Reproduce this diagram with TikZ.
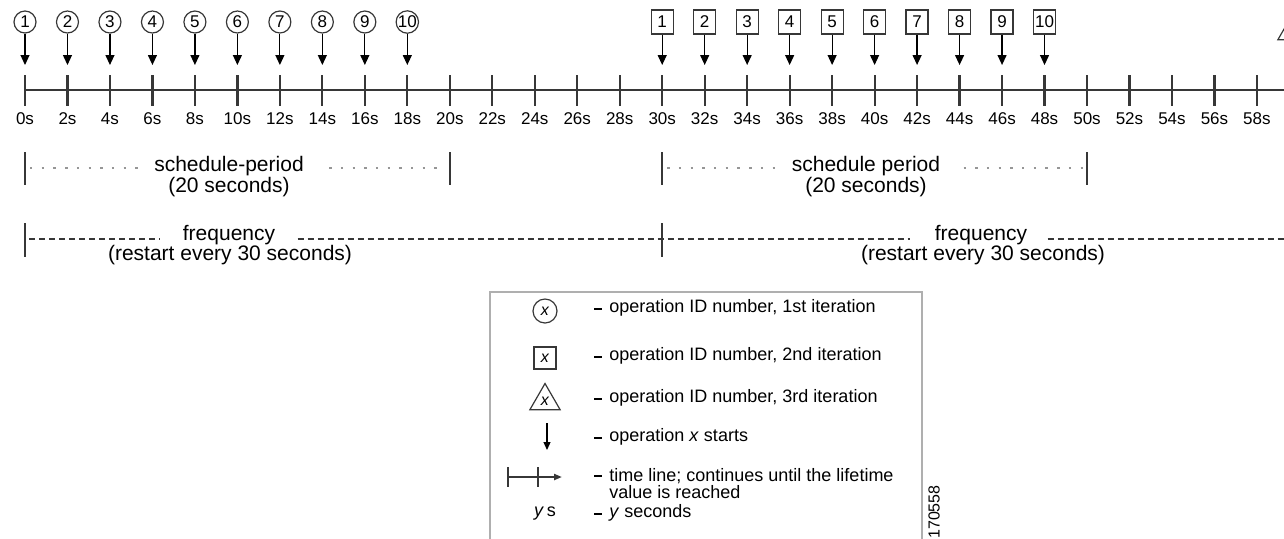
\documentclass[tikz,border=0pt]{standalone}
\usepackage{fontspec}
\setmainfont{Liberation Sans}
\usepackage{tikz}
\usetikzlibrary{shapes.geometric, arrows.meta, positioning, calc}
\definecolor{lineGray}{RGB}{55, 55, 55}
\definecolor{dotGray}{RGB}{150, 150, 150}
\definecolor{boxGray}{RGB}{175, 175, 175}

\begin{document}
\begin{tikzpicture}[
    x=0.5pt, y=-0.5pt,
    every node/.style={inner sep=0pt, align=center},
    lbl/.style={font=\fontsize{8.5}{10}\selectfont},
    period/.style={font=\fontsize{10.5}{11}\selectfont},
    legtext/.style={font=\fontsize{9}{8.5}\selectfont, anchor=west, align=left},
    legdash/.style={fill=black, minimum width=4pt, minimum height=1.4pt},
    opcircle/.style={circle, draw=lineGray, line width=0.6pt, minimum size=11pt, font=\fontsize{8.5}{9}\selectfont},
    opsquare/.style={rectangle, draw=lineGray, line width=0.6pt, minimum width=11pt, minimum height=12pt, font=\fontsize{8.5}{9}\selectfont},
    optri/.style={regular polygon, regular polygon sides=3, draw=lineGray, line width=0.6pt, minimum size=17.5pt, font=\fontsize{7.5}{8}\selectfont},
    startarr/.style={-{Triangle[length=5pt, width=4.5pt]}, line width=0.6pt, color=black},
    tline/.style={line width=1pt, color=lineGray},
    tickmark/.style={line width=1.1pt, color=lineGray},
    pbar/.style={line width=1.1pt, color=lineGray},
    dotline/.style={line width=1.2pt, color=dotGray, dash pattern=on 1.2pt off 4.65pt},
    dashline/.style={line width=0.6pt, color=lineGray, dash pattern=on 3pt off 2pt},
    legbox/.style={draw=boxGray, line width=0.6pt}
]

\clip (0,0) rectangle (1284,538);

% Timeline with ticks every 2 seconds
\coordinate (tstart) at (25,90);
\coordinate (tend) at (1284,90);
\draw[tline] (tstart) -- (tend);
\foreach \tm in {0,2,...,58} {
    \coordinate (tk\tm) at ({25+21.24*\tm},90);
    \draw[tickmark] ($(tk\tm)+(0,-15)$) -- ($(tk\tm)+(0,16)$);
    \node[lbl] (lb\tm) at ($(tk\tm)+(0,29)$) {\tm s};
}

% 1st iteration (circles)
\foreach \i in {1,...,10} {
    \pgfmathtruncatemacro{\tm}{2*(\i-1)}
    \node[opcircle] (c\i) at ({25+21.24*\tm},22) {\i};
    \coordinate (ca\i) at ($(tk\tm)+(0,-25)$);
    \draw[startarr] (c\i) -- (ca\i);
}

% 2nd iteration (squares)
\foreach \i in {1,...,10} {
    \pgfmathtruncatemacro{\tm}{30+2*(\i-1)}
    \node[opsquare] (s\i) at ({25+21.24*\tm},22) {\i};
    \coordinate (sa\i) at ($(tk\tm)+(0,-25)$);
    \draw[startarr] (s\i) -- (sa\i);
}

% 3rd iteration, running off the right edge
\node[optri] (tri1) at (1293,31) {};

% Schedule periods
\node[period] (sp1) at (229,166) {schedule-period};
\node[period] (sp1s) at (229,187) {(20 seconds)};
\draw[pbar] ($(tk0)+(0,62)$) -- ($(tk0)+(0,95)$);
\draw[pbar] ($(tk20)+(0,62)$) -- ($(tk20)+(0,95)$);
\draw[dotline] ($(tk0)+(5,78)$) -- ($(sp1.west)+(-8,2)$);
\draw[dotline] ($(sp1.east)+(25,2)$) -- ($(tk20)+(-4,78)$);

\node[period] (sp2) at (866,166) {schedule period};
\node[period] (sp2s) at (866,187) {(20 seconds)};
\draw[pbar] ($(tk30)+(0,62)$) -- ($(tk30)+(0,95)$);
\draw[pbar] ($(tk50)+(0,62)$) -- ($(tk50)+(0,95)$);
\draw[dotline] ($(tk30)+(5,78)$) -- ($(sp2.west)+(-14,2)$);
\draw[dotline] ($(sp2.east)+(23,2)$) -- ($(tk50)+(-4,78)$);

% Frequency
\node[period] (fq1) at (229,235) {frequency};
\node[period] (fq1s) at (230,255) {(restart every 30 seconds)};
\node[period] (fq2) at (981,235) {frequency};
\node[period] (fq2s) at (983,255) {(restart every 30 seconds)};
\coordinate (fend) at (1284,239);
\draw[pbar] ($(tk0)+(0,133)$) -- ($(tk0)+(0,167)$);
\draw[pbar] ($(tk30)+(0,133)$) -- ($(tk30)+(0,167)$);
\draw[dashline] ($(tk0)+(4,149)$) -- ($(fq1.west)+(-23,4)$);
\draw[dashline] ($(fq1.east)+(22,4)$) -- ($(fq2.west)+(-25,4)$);
\draw[dashline] ($(fq2.east)+(20,4)$) -- (fend);

% Legend
\draw[legbox] (490,600) -- (490,292) -- (922,292) -- (922,600);
\node[opcircle, minimum size=12pt, font=\fontsize{8}{8}\selectfont] (lgc) at (545,311) {\textit{x}};
\node[opsquare, minimum width=11pt, minimum height=11pt, font=\fontsize{8}{8}\selectfont] (lgs) at (545,358) {\textit{x}};
\node[optri, font=\fontsize{8}{8}\selectfont] (lgt) at (545,401) {\textit{x}};
\coordinate (lga) at (547,423);
\coordinate (lgb) at (547,450);
\draw[line width=0.6pt, -{Triangle[length=4pt, width=3.5pt]}] (lga) -- (lgb);
\coordinate (lgl) at (508,477);
\coordinate (lgr) at (562,477);
\draw[tline, -{Triangle[length=4pt, width=3pt]}] (lgl) -- (lgr);
\draw[tickmark] (508,467) -- (508,487);
\draw[tickmark] (538,467) -- (538,487);
\node[font=\fontsize{9}{9}\selectfont] (lgy) at (545,514) {\textit{y}\,s};

\foreach \r/\y in {1/309, 2/357, 3/399, 4/438, 5/476, 6/514} {
    \node[legdash] (dash\r) at (598,\y) {};
}
\node[legtext] (lt1) at (609,308) {operation ID number, 1st iteration};
\node[legtext] (lt2) at (609,356) {operation ID number, 2nd iteration};
\node[legtext] (lt3) at (609,398) {operation ID number, 3rd iteration};
\node[legtext] (lt4) at (609,437) {operation \textit{x} starts};
\node[legtext] (lt5) at (609,484) {time line; continues until the lifetime\\value is reached};
\node[legtext] (lt6) at (609,513) {\textit{y} seconds};

\node[font=\fontsize{8}{8}\selectfont, rotate=90] (figid) at (934,512) {170558};

\end{tikzpicture}
\end{document}
